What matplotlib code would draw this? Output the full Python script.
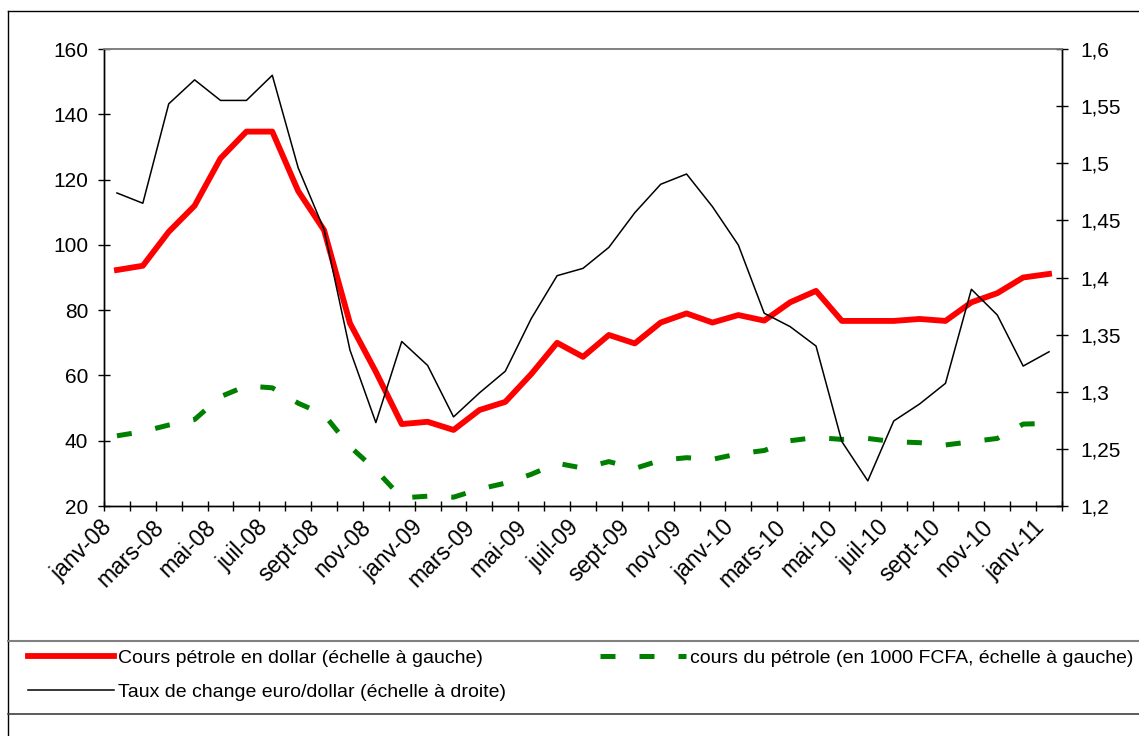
import matplotlib
matplotlib.use('Agg')
import matplotlib.pyplot as plt
import matplotlib.transforms as mtransforms
from matplotlib.lines import Line2D
from matplotlib.ticker import FuncFormatter
import numpy as np

# monthly data, janv-08 .. janv-11
petrole_usd = [92.3, 93.6, 104, 112, 126.5, 134.7, 134.7, 116.5, 104.5, 76, 61.1, 45.1,
               45.8, 43.3, 49.4, 51.9, 60.4, 70, 65.7, 72.4, 69.8, 76.2, 79, 76.2,
               78.5, 76.8, 82.4, 85.9, 76.7, 76.7, 76.7, 77.3, 76.7, 82.4, 85.2, 90, 91.1]
petrole_fcfa = [41.5, 42.8, 44.8, 46.5, 53.5, 56.8, 56.2, 51.5, 48, 38.2, 31, 22.5,
                23, 22.7, 25.2, 27, 29.7, 33.1, 31.6, 33.6, 31.5, 34, 34.8, 34.3,
                36, 37, 40, 41, 40.4, 40.7, 39.7, 39.4, 38.7, 39.7, 40.7, 45.1, 45.3]
taux = [1.474, 1.465, 1.552, 1.573, 1.555, 1.555, 1.577, 1.496, 1.442, 1.3365, 1.273, 1.344,
        1.323, 1.278, 1.299, 1.318, 1.364, 1.4016, 1.408, 1.4264, 1.4567, 1.4816, 1.4906, 1.462,
        1.4284, 1.3687, 1.357, 1.34, 1.2563, 1.222, 1.2744, 1.2893, 1.3074, 1.3897, 1.3672, 1.3225, 1.335]
tick_labels = ['janv-08', 'mars-08', 'mai-08', 'juil-08', 'sept-08', 'nov-08',
               'janv-09', 'mars-09', 'mai-09', 'juil-09', 'sept-09', 'nov-09',
               'janv-10', 'mars-10', 'mai-10', 'juil-10', 'sept-10', 'nov-10', 'janv-11']
left_ticks = [20, 40, 60, 80, 100, 120, 140, 160]
right_ticks = [1.2, 1.25, 1.3, 1.35, 1.4, 1.45, 1.5, 1.55, 1.6]

lab_usd = 'Cours pétrole en dollar (échelle à gauche)'
lab_fcfa = 'cours du pétrole (en 1000 FCFA, échelle à gauche)'
lab_taux = 'Taux de change euro/dollar (échelle à droite)'

plt.rcParams['font.family'] = ['Liberation Sans', 'DejaVu Sans']

fig = plt.figure(figsize=(11.39, 7.36), dpi=100)
ax = fig.add_axes([0.0913, 0.3125, 0.8411, 0.6209])
x = np.arange(len(petrole_usd))

l1, = ax.plot(x, petrole_usd, color='#ff0000', lw=4.2, label=lab_usd)
l2, = ax.plot(x, petrole_fcfa, color='#008000', lw=3.6, dashes=(3, 4.8), label=lab_fcfa)
ax2 = ax.twinx()
l3, = ax2.plot(x, taux, color='black', lw=1.1, label=lab_taux)

ax.set_xlim(-0.5, len(x) - 0.5)
ax.set_ylim(20, 160)
ax2.set_ylim(1.2, 1.6)
ax.set_yticks(left_ticks)
ax2.set_yticks(right_ticks)
ax2.yaxis.set_major_formatter(FuncFormatter(lambda v, p: ('%g' % v).replace('.', ',')))

ax.set_xticks(x[::2])
ax.set_xticklabels(tick_labels, rotation=45, ha='right', va='center', rotation_mode='anchor')
ax.set_xticks(np.arange(-0.5, len(x), 1), minor=True)
ax.tick_params(axis='x', which='major', length=0, pad=13, labelsize=16.5)
ax.tick_params(axis='x', which='minor', direction='inout', length=7, width=1)
ax.tick_params(axis='y', direction='inout', length=8.5, width=1, pad=7, labelsize=15)
ax2.tick_params(axis='y', direction='inout', length=8.5, width=1, pad=9, labelsize=15)

offset = mtransforms.ScaledTranslation(-0.08, 0, fig.dpi_scale_trans)
for lab in ax.get_xticklabels():
    lab.set_transform(lab.get_transform() + offset)

for a in (ax, ax2):
    for s in ('left', 'right', 'bottom'):
        a.spines[s].set_color('black')
        a.spines[s].set_linewidth(1)
    a.spines['top'].set_color('#808080')
    a.spines['top'].set_linewidth(1.2)

# outer frame and legend box lines
fig.add_artist(Line2D([8 / 1139, 8 / 1139], [0, 1 - 11 / 736], transform=fig.transFigure, color='black', lw=1))
fig.add_artist(Line2D([8 / 1139, 1], [1 - 11 / 736, 1 - 11 / 736], transform=fig.transFigure, color='black', lw=1))
fig.add_artist(Line2D([8 / 1139, 1], [1 - 641 / 736, 1 - 641 / 736], transform=fig.transFigure, color='#808080', lw=1.5))
fig.add_artist(Line2D([8 / 1139, 1], [1 - 714 / 736, 1 - 714 / 736], transform=fig.transFigure, color='#404040', lw=1.2))

leg1 = fig.legend(handles=[l1, l3], loc='upper left', bbox_to_anchor=(28 / 1139, 1 - 649 / 736),
                  frameon=False, fontsize=14, handlelength=4.4, handletextpad=0.25,
                  borderpad=0, borderaxespad=0, labelspacing=0.85)
leg2 = fig.legend(handles=[l2], loc='upper left', bbox_to_anchor=(600 / 1139, 1 - 649 / 736),
                  frameon=False, fontsize=14, handlelength=4.4, handletextpad=0.25,
                  borderpad=0, borderaxespad=0)

fig.savefig('out.png', dpi=100)
